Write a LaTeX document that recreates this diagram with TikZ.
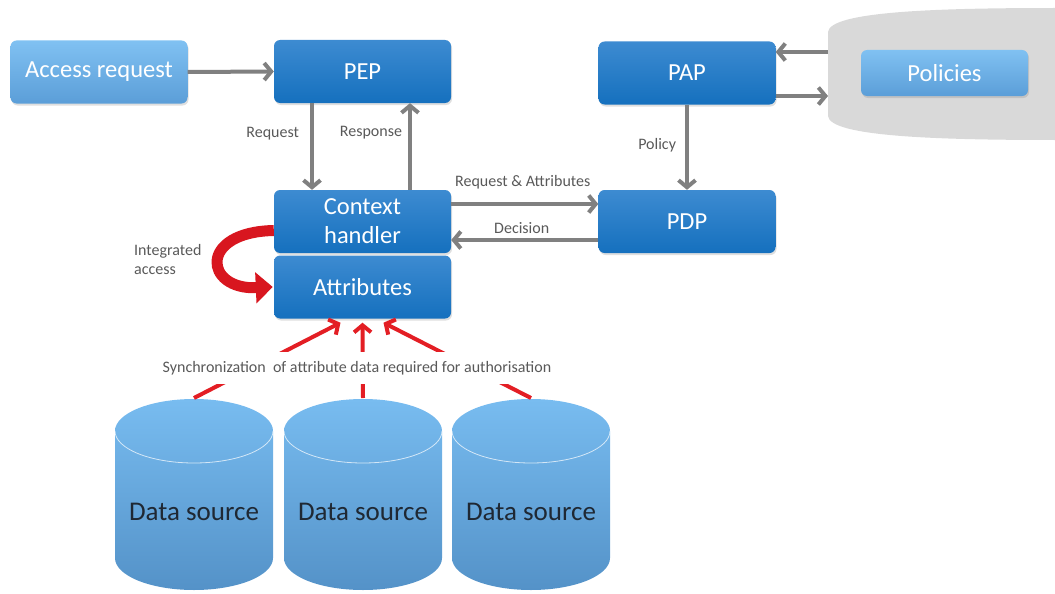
\documentclass[tikz,border=0pt]{standalone}
\usepackage{fontspec}
\setmainfont{Carlito}
\usetikzlibrary{arrows.meta,shadows}

\definecolor{darktop}{HTML}{3D8BD1}
\definecolor{darkbot}{HTML}{1570BE}
\definecolor{lighttop}{HTML}{80C1F2}
\definecolor{lightbot}{HTML}{5B9ED8}
\definecolor{cyltop}{HTML}{78BCF0}
\definecolor{cylbot}{HTML}{5492C8}
\definecolor{arrowgray}{HTML}{808080}
\definecolor{labelgray}{HTML}{595959}
\definecolor{storegray}{HTML}{D9D9D9}
\definecolor{syncred}{HTML}{E31E24}
\definecolor{loopred}{HTML}{D8161F}
\definecolor{dstextcol}{HTML}{1F2833}

\tikzset{
  darkbox/.style={rounded corners=6pt, top color=darktop, bottom color=darkbot,
    text=white, minimum width=177pt, minimum height=63pt, align=center,
    font=\fontsize{24.5}{29}\selectfont,
    drop shadow={opacity=0.25, shadow xshift=1pt, shadow yshift=-2pt}},
  lightbox/.style={darkbox, top color=lighttop, bottom color=lightbot},
  lbl/.style={text=labelgray, font=\fontsize{16}{19}\selectfont, inner sep=3pt},
  grayarrow/.style={draw=arrowgray, line width=4pt, -{Straight Barb[length=7pt,width=17pt]}},
  redarrow/.style={draw=syncred, line width=4pt, -{Straight Barb[length=7pt,width=17pt]}},
  looparrow/.style={draw=loopred, line width=11pt, -{Triangle[length=17pt,width=30pt]}},
  cylbody/.style={top color=cyltop, bottom color=cylbot},
  seam/.style={draw=white, line width=0.8pt, opacity=0.7},
  dstext/.style={text=dstextcol, font=\fontsize{27}{32}\selectfont}
}

\begin{document}
\begin{tikzpicture}[x=1pt, y=-1pt]
  \useasboundingbox (0,0) rectangle (1055,594);

  \fill[storegray] (828,32) .. controls (830,12) and (930,8) .. (1055,8)
    -- (1055,140) .. controls (930,140) and (830,136) .. (828,116) -- cycle;

  \path[cylbody] (115,431) arc[start angle=180, end angle=360, x radius=79, y radius=32]
    -- (273,558) arc[start angle=0, end angle=180, x radius=79, y radius=32] -- cycle;
  \draw[seam] (115,431) arc[start angle=180, end angle=0, x radius=79, y radius=32];
  \path[cylbody] (284,431) arc[start angle=180, end angle=360, x radius=79, y radius=32]
    -- (442,558) arc[start angle=0, end angle=180, x radius=79, y radius=32] -- cycle;
  \draw[seam] (284,431) arc[start angle=180, end angle=0, x radius=79, y radius=32];
  \path[cylbody] (452,431) arc[start angle=180, end angle=360, x radius=79, y radius=32]
    -- (610,558) arc[start angle=0, end angle=180, x radius=79, y radius=32] -- cycle;
  \draw[seam] (452,431) arc[start angle=180, end angle=0, x radius=79, y radius=32];

  \begin{scope}
    \node[lightbox] (acc) at (99,72) {Access request};
    \node[darkbox] (pep) at (362.5,71.5) {PEP};
    \node[darkbox] (ctx) at (362.5,221.5) {Context\\handler};
    \node[darkbox] (att) at (362.5,287) {Attributes};
    \node[darkbox] (pap) at (687,73) {PAP};
    \node[darkbox] (pdp) at (687,221.5) {PDP};
    \node[lightbox, minimum width=167pt, minimum height=46pt] (pol) at (944.5,73) {Policies};
    \node[dstext] (ds1) at (194,512) {Data source};
    \node[dstext] (ds2) at (363,512) {Data source};
    \node[dstext] (ds3) at (531,512) {Data source};
    \coordinate (ds1top) at (194,398);
    \coordinate (ds2top) at (363,398);
    \coordinate (ds3top) at (531,398);
    \coordinate (storein) at (828,52);
    \coordinate (storeout) at (828,96);
  \end{scope}

  \begin{scope}
    \draw[grayarrow] (acc.east) -- (pep.west);
    \draw[grayarrow] ([xshift=-50.5pt]pep.south) -- node[lbl,left=8pt,pos=0.35] {Request} ([xshift=-50.5pt]ctx.north);
    \draw[grayarrow] ([xshift=47.5pt]ctx.north) -- node[lbl,left=3pt,pos=0.655] {Response} ([xshift=47.5pt]pep.south);
    \draw[grayarrow] ([yshift=17.5pt]ctx.east) -- node[lbl,above=10pt,xshift=-2pt] {Request \& Attributes} ([yshift=17.5pt]pdp.west);
    \draw[grayarrow] ([yshift=-18.5pt]pdp.west) -- node[lbl,above=1pt,xshift=-3pt] {Decision} ([yshift=-18.5pt]ctx.east);
    \draw[grayarrow] (pap.south) -- node[lbl,left=6pt,pos=0.48] {Policy} (pdp.north);
    \draw[grayarrow] (storein) -- (pap.east |- storein);
    \draw[grayarrow] (pap.east |- storeout) -- (storeout);
  \end{scope}

  \begin{scope}
    \draw[looparrow] ([yshift=-9pt]ctx.west) .. controls (198,232) and (204,290) .. ([xshift=-1pt]att.west);
    \node[lbl, anchor=west, align=left, font=\fontsize{16}{19}\selectfont] (intacc) at (131,260) {Integrated\\access};
    \draw[redarrow] (ds1top) -- ([xshift=-22pt,yshift=-4pt]att.south);
    \draw[redarrow] (ds2top) -- ([yshift=-4pt]att.south);
    \draw[redarrow] (ds3top) -- ([xshift=21pt,yshift=-4pt]att.south);
    \node[lbl, fill=white, inner xsep=2pt, inner ysep=9pt] (sync) at (357,368) {Synchronization\ \ of attribute data required for authorisation};
  \end{scope}
\end{tikzpicture}
\end{document}
